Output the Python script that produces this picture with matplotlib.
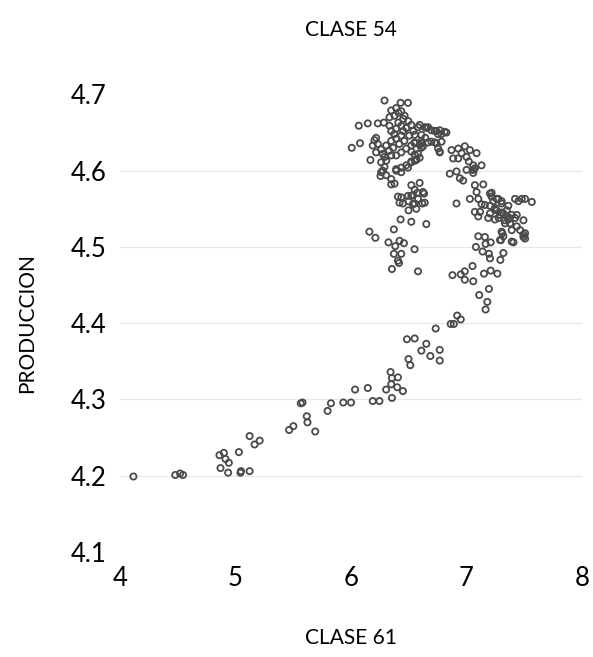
import matplotlib
matplotlib.use("Agg")
import matplotlib.pyplot as plt

# CLASE 61 (x) vs PRODUCCION (y)
# lower tail
x_tail = [4.116, 4.478, 4.520, 4.545, 4.861, 4.899, 4.913, 4.942, 4.870, 4.936,
          5.029, 5.043, 5.047, 5.122, 5.122, 5.165, 5.209, 5.464, 5.501, 5.565,
          5.580, 5.617, 5.623, 5.690, 5.797, 5.826, 5.933, 6.000, 6.035, 6.145,
          6.188, 6.246, 6.304, 6.342, 6.354, 6.348, 6.354, 6.406, 6.400, 6.449,
          6.484, 6.551, 6.498, 6.513, 6.609, 6.652, 6.687, 6.733, 6.768, 6.768]
y_tail = [4.199, 4.201, 4.203, 4.201, 4.227, 4.230, 4.222, 4.217, 4.210, 4.204,
          4.231, 4.204, 4.206, 4.206, 4.252, 4.241, 4.246, 4.260, 4.265, 4.295,
          4.296, 4.278, 4.270, 4.258, 4.285, 4.295, 4.296, 4.296, 4.313, 4.315,
          4.298, 4.298, 4.313, 4.336, 4.328, 4.320, 4.302, 4.329, 4.316, 4.311,
          4.379, 4.380, 4.353, 4.345, 4.364, 4.373, 4.357, 4.393, 4.365, 4.351]

# right arm, 4.40 - 4.52
x_arm = [6.863, 6.890, 6.919, 6.950, 7.110, 7.194, 7.180, 7.165,
         6.878, 6.950, 6.985, 7.052, 6.985, 7.058, 7.151, 7.209, 7.267,
         7.102, 7.159, 7.209, 7.165, 7.081, 7.139, 7.194, 7.203, 7.298,
         7.310, 7.319, 7.293]
y_arm = [4.399, 4.399, 4.410, 4.405, 4.437, 4.445, 4.428, 4.418,
         4.463, 4.464, 4.468, 4.475, 4.457, 4.455, 4.465, 4.469, 4.465,
         4.514, 4.513, 4.506, 4.504, 4.500, 4.494, 4.491, 4.485, 4.509,
         4.518, 4.492, 4.483]

# middle left group, 4.47 - 4.57
x_mid = [6.550, 6.580, 6.406, 6.435, 6.493, 6.536, 6.574, 6.632, 6.420, 6.449,
         6.498, 6.551, 6.617, 6.498, 6.565, 6.429, 6.522, 6.652, 6.371, 6.159,
         6.211, 6.324, 6.383, 6.420, 6.458, 6.371, 6.435, 6.406, 6.415, 6.354]
y_mid = [4.497, 4.468, 4.566, 4.565, 4.567, 4.568, 4.571, 4.570, 4.558, 4.557,
         4.560, 4.557, 4.557, 4.548, 4.550, 4.536, 4.533, 4.530, 4.523, 4.520,
         4.512, 4.506, 4.501, 4.508, 4.505, 4.491, 4.491, 4.482, 4.479, 4.471]

# top left group
x_top = [6.290, 6.429, 6.493, 6.348, 6.391, 6.411, 6.464, 6.067, 6.145, 6.232,
         6.284, 6.333, 6.006, 6.078, 6.168, 6.217, 6.188, 6.261, 6.255, 6.275,
         6.290, 6.304, 6.348, 6.377, 6.348, 6.391, 6.435, 6.478, 6.522, 6.551,
         6.580, 6.638, 6.667, 6.725, 6.754, 6.783, 6.551, 6.609, 6.667, 6.725,
         6.609, 6.580, 6.435, 6.333, 6.377, 6.203, 6.232, 6.217, 6.275, 6.290,
         6.261, 6.261, 6.304, 6.391, 6.435, 6.493, 6.565, 6.594,
         6.348, 6.391, 6.435, 6.478, 6.435, 6.391, 6.348, 6.304, 6.365, 6.417,
         6.461, 6.504, 6.478, 6.435, 6.391, 6.348, 6.522, 6.496, 6.452, 6.409,
         6.374, 6.330, 6.452, 6.539]
y_top = [4.692, 4.689, 4.689, 4.679, 4.682, 4.676, 4.672, 4.659, 4.662, 4.662,
         4.663, 4.659, 4.630, 4.636, 4.614, 4.643, 4.633, 4.628, 4.593, 4.600,
         4.605, 4.613, 4.589, 4.583, 4.582, 4.602, 4.604, 4.607, 4.611, 4.613,
         4.657, 4.657, 4.657, 4.652, 4.648, 4.648, 4.637, 4.639, 4.637, 4.637,
         4.630, 4.622, 4.678, 4.670, 4.672, 4.640, 4.635, 4.624, 4.622, 4.618,
         4.611, 4.598, 4.594, 4.600, 4.598, 4.604, 4.615, 4.617,
         4.652, 4.655, 4.659, 4.656, 4.646, 4.642, 4.639, 4.633, 4.630, 4.635,
         4.639, 4.646, 4.629, 4.624, 4.620, 4.620, 4.633, 4.665, 4.668, 4.663,
         4.648, 4.626, 4.652, 4.652]

# top right group, 4.55 - 4.66
x_tr = [6.522, 6.594, 6.652, 6.696, 6.739, 6.768, 6.811, 6.826, 6.551, 6.609,
        6.643, 6.696, 6.739, 6.783, 6.551, 6.594, 6.623, 6.522, 6.551, 6.522,
        6.565, 6.754, 6.768, 6.870, 6.928, 6.985, 7.029, 6.957, 6.884, 6.928,
        7.000, 7.087, 7.020, 7.058, 7.072, 7.130, 7.000, 7.058, 7.058, 6.855,
        6.913, 6.942, 6.971, 6.522, 6.594, 6.551, 6.623, 6.522, 6.580, 6.638,
        6.536, 7.072, 7.145, 7.087, 7.029, 7.102, 6.913, 7.130, 7.217, 7.261,
        7.203, 7.304, 7.362, 7.246, 6.609, 6.768]
y_tr = [4.660, 4.660, 4.656, 4.653, 4.652, 4.653, 4.651, 4.650, 4.647, 4.647,
        4.643, 4.638, 4.636, 4.638, 4.636, 4.634, 4.632, 4.625, 4.621, 4.612,
        4.614, 4.629, 4.625, 4.627, 4.629, 4.632, 4.627, 4.623, 4.616, 4.616,
        4.618, 4.623, 4.612, 4.607, 4.603, 4.607, 4.601, 4.601, 4.597, 4.596,
        4.599, 4.590, 4.587, 4.581, 4.584, 4.575, 4.572, 4.567, 4.563, 4.558,
        4.556, 4.581, 4.582, 4.572, 4.563, 4.563, 4.557, 4.556, 4.571, 4.563,
        4.554, 4.560, 4.554, 4.551, 4.636, 4.624]

# right cluster, 4.50 - 4.57
x_rc = [7.159, 7.072, 7.117, 7.102, 7.203, 7.217, 7.232, 7.275, 7.304, 7.246,
        7.203, 7.188, 7.246, 7.290, 7.319, 7.348, 7.362, 7.333, 7.377, 7.420,
        7.435, 7.420, 7.449, 7.478, 7.507, 7.565, 7.435, 7.464, 7.391, 7.304,
        7.290, 7.391, 7.493, 7.507, 7.493, 7.507, 7.493, 7.406, 7.319,
        7.261, 7.304, 7.348, 7.278, 7.330, 7.391, 7.374]
y_rc = [4.555, 4.546, 4.546, 4.540, 4.570, 4.566, 4.560, 4.563, 4.557, 4.549,
        4.544, 4.538, 4.536, 4.542, 4.544, 4.540, 4.536, 4.531, 4.531, 4.538,
        4.542, 4.563, 4.560, 4.563, 4.563, 4.559, 4.527, 4.522, 4.522, 4.520,
        4.509, 4.507, 4.516, 4.511, 4.535, 4.518, 4.513, 4.506, 4.514,
        4.548, 4.545, 4.548, 4.538, 4.535, 4.542, 4.538]

x_vals = x_tail + x_arm + x_mid + x_top + x_tr + x_rc
y_vals = y_tail + y_arm + y_mid + y_top + y_tr + y_rc

x_ticks = [4, 5, 6, 7, 8]
y_ticks = [4.1, 4.2, 4.3, 4.4, 4.5, 4.6, 4.7]

plt.rcParams["font.family"] = ["Lato", "DejaVu Sans"]

fig = plt.figure(figsize=(5.93, 6.57), dpi=100)
ax = fig.add_axes([0.2024, 0.1598, 0.7791, 0.6965])

# light gridlines only between the outer ticks
for yv in y_ticks[1:-1]:
    ax.axhline(yv, color="#e6e6e6", linewidth=0.8, zorder=0)

ax.scatter(x_vals, y_vals, s=20, facecolors="none", edgecolors="#4a4a4a",
           linewidths=1.3, zorder=3)

ax.set_xlim(4, 8)
ax.set_ylim(4.1, 4.7)
ax.set_xticks(x_ticks)
ax.set_yticks(y_ticks)
ax.set_xticklabels([str(v) for v in x_ticks])
ax.set_yticklabels([f"{v:.1f}" for v in y_ticks])
ax.tick_params(length=0, labelsize=18.5, pad=10)
for sp in ax.spines.values():
    sp.set_visible(False)

ax.set_title("CLASE 54", fontsize=15, pad=42)
ax.set_xlabel("CLASE 61", fontsize=15, labelpad=27)
ax.set_ylabel("PRODUCCION", fontsize=15, labelpad=24)

fig.savefig("out.png", dpi=100)
